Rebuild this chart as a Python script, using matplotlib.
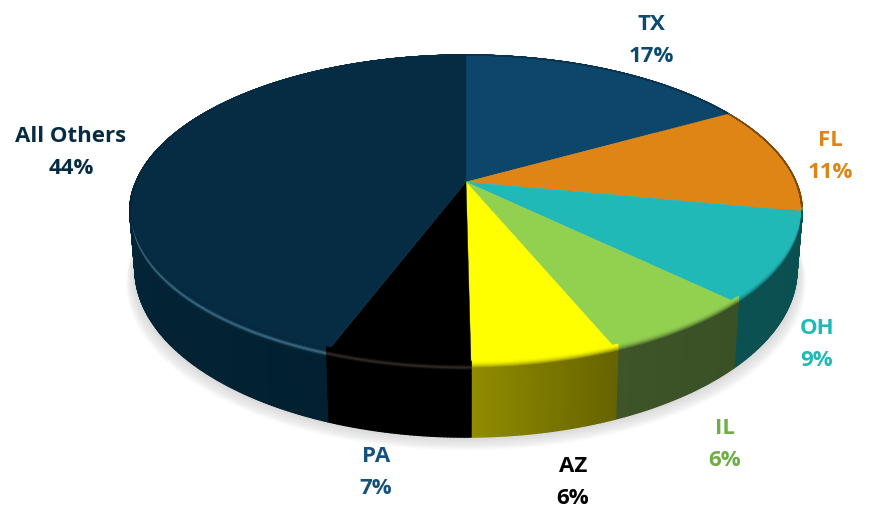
import matplotlib
matplotlib.use('Agg')
import matplotlib.pyplot as plt
from matplotlib.collections import PolyCollection
from matplotlib.colors import to_rgb
import numpy as np

# slice data, clockwise from 12 o'clock
states = ['TX', 'FL', 'OH', 'IL', 'AZ', 'PA', 'All Others']
shares = [16.8, 11.2, 9.3, 6.5, 6, 5.9, 44.3]
pct_labels = ['17%', '11%', '9%', '6%', '6%', '7%', '44%']

top_colors = ['#0c466b', '#de8516', '#20b9b8', '#92d050', '#ffff00', '#000000', '#062c43']
wall_from = ['#0a3350', '#7d4a0c', '#0b4f50', '#3a5025', '#676300', '#000000', '#02202f']
wall_to = ['#0a3350', '#7d4a0c', '#0c5152', '#3d5528', '#908d00', '#000000', '#072e47']
glow_colors = [None, None, None, None, None, '#302927', '#3a6a84']
label_colors = ['#0c4a70', '#de8516', '#20b9b8', '#70ad47', '#000000', '#14527c', '#062c43']
label_pos = [(651, 25), (830, 141), (817, 329), (725, 429), (573, 466), (376, 457), (71, 136)]

# perspective of the disc
cx, cy = 466, 182
a, b, k = 330, 151, 0.1885
wall_h = 56


def project(theta, r=1.0):
    X = r * np.sin(theta)
    Y = r * np.cos(theta)
    w = 1 + k * Y
    return cx + a * X / w, cy - b * Y / w


def wall_depth(theta):
    return wall_h / (1 + k * np.cos(theta))


def mix(c1, c2, t):
    c1 = np.array(to_rgb(c1))
    c2 = np.array(to_rgb(c2))
    return tuple(c1 + (c2 - c1) * t)


fig = plt.figure(figsize=(8.71, 5.07), dpi=100)
ax = fig.add_axes([0, 0, 1, 1])
ax.set_xlim(0, 871)
ax.set_ylim(507, 0)
ax.axis('off')

edges = np.cumsum([0] + shares) / np.sum(shares) * 2 * np.pi

# soft shadow under the disc
t = np.linspace(0, 2 * np.pi, 400)
sx, sy = project(t)
for i in range(16):
    grow = 16 - i
    ax.fill(cx + (sx - cx) * (0.985 + grow / 600), sy + wall_depth(t) + grow * 0.85,
            color='#707070', alpha=0.014, lw=0, zorder=1)

# side wall
for i in range(len(states)):
    n = max(int((edges[i + 1] - edges[i]) * 120), 2)
    th = np.linspace(edges[i], edges[i + 1], n + 1)
    x, y = project(th)
    d = wall_depth(th)
    xb = cx + (x - cx) * 0.985
    quads = []
    cols = []
    for j in range(n):
        quads.append([(x[j], y[j]), (x[j + 1], y[j + 1]), (xb[j + 1], y[j + 1] + d[j + 1]), (xb[j], y[j] + d[j])])
        cols.append(mix(wall_from[i], wall_to[i], j / n))
    ax.add_collection(PolyCollection(quads, facecolors=cols, edgecolors=cols, linewidths=1.0, zorder=2 + i * 0.01))

# top face
for i in range(len(states)):
    th = np.linspace(edges[i], edges[i + 1], 150)
    x, y = project(th)
    ax.fill(np.r_[cx, x], np.r_[cy, y], color=top_colors[i], lw=0.3, zorder=3)

# bevel along the front rim
offsets = np.linspace(-7, 5, 13)
for i in range(len(states)):
    n = max(int((edges[i + 1] - edges[i]) * 120), 2)
    th = np.linspace(edges[i], edges[i + 1], n + 1)
    x, y = project(th)
    fade = np.clip(-np.cos(th) / 0.35, 0, 1)
    quads = []
    cols = []
    for o in range(len(offsets) - 1):
        u = (o + 0.5) / (len(offsets) - 1)
        for j in range(n):
            f0, f1 = fade[j], fade[j + 1]
            quads.append([(x[j], y[j] + offsets[o] * f0), (x[j + 1], y[j + 1] + offsets[o] * f1),
                          (x[j + 1], y[j + 1] + offsets[o + 1] * f1), (x[j], y[j] + offsets[o + 1] * f0)])
            wall_c = mix(wall_from[i], wall_to[i], j / n)
            if glow_colors[i] is None:
                c = mix(top_colors[i], wall_c, min(u / 0.62, 1) ** 2)
            else:
                base = mix(top_colors[i], wall_c, u)
                c = mix(base, glow_colors[i], np.exp(-((u - 0.58) / 0.14) ** 2) * (f0 ** 3))
            cols.append(c)
    ax.add_collection(PolyCollection(quads, facecolors=cols, edgecolors=cols, linewidths=0.8, zorder=4 + i * 0.01))

# labels
for i in range(len(states)):
    ax.text(label_pos[i][0], label_pos[i][1], states[i], color=label_colors[i], ha='center', va='center',
            fontsize=16, fontweight='bold', family='Open Sans', zorder=5)
    ax.text(label_pos[i][0], label_pos[i][1] + 32, pct_labels[i], color=label_colors[i], ha='center', va='center',
            fontsize=16, fontweight='bold', family='Open Sans', zorder=5)

fig.savefig('out.png', dpi=100, facecolor='white')
